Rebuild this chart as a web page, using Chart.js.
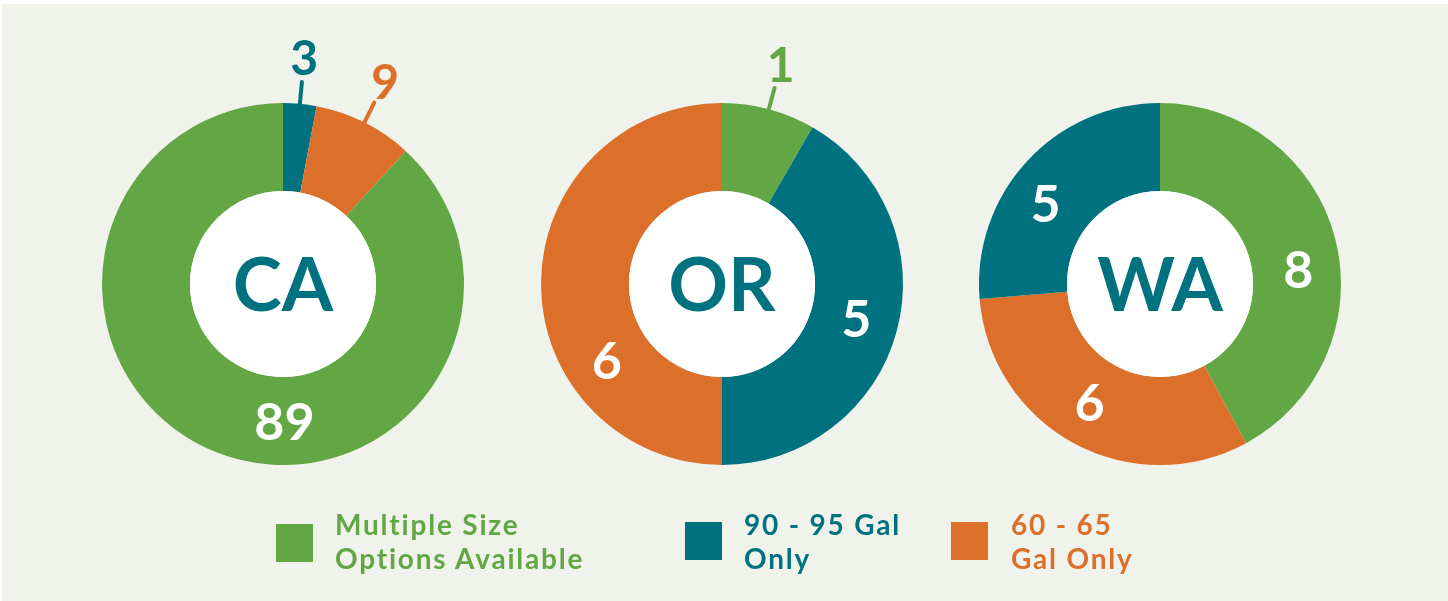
<!DOCTYPE html>
<html>
<head>
<meta charset="utf-8">
<script src="https://cdn.jsdelivr.net/npm/chart.js@4"></script>
<style>
  html, body { margin: 0; padding: 0; background: #ffffff; }
  body { width: 1448px; height: 601px; position: relative; overflow: hidden; }
  #panel { position: absolute; left: 2px; top: 4px; right: 0; bottom: 0; background: #f0f3ec; }
  canvas { position: absolute; }
  .sw { position: absolute; width: 37px; height: 38px; }
  .lt { position: absolute; font-family: Lato, "Open Sans", sans-serif; font-weight: bold;
        font-size: 28px; letter-spacing: 1.8px; line-height: 34px; white-space: nowrap; }
</style>
</head>
<body>
<div id="panel"></div>
<canvas id="ca" width="440" height="560" style="left:63px;top:4px"></canvas>
<canvas id="or" width="440" height="560" style="left:502px;top:4px"></canvas>
<canvas id="wa" width="440" height="560" style="left:940px;top:4px"></canvas>

<div class="sw" style="left:276px;top:524px;background:#62a744"></div>
<div class="lt" style="left:335px;top:507px;color:#62a744">Multiple Size<br>Options Available</div>
<div class="sw" style="left:685px;top:522px;background:#00717f"></div>
<div class="lt" style="left:744px;top:507px;color:#00717f">90 - 95 Gal<br>Only</div>
<div class="sw" style="left:951px;top:522px;background:#dc6f2a"></div>
<div class="lt" style="left:1011px;top:507px;color:#dc6f2a">60 - 65<br>Gal Only</div>

<script>
const categories = ['Multiple Size Options Available', '90 - 95 Gal Only', '60 - 65 Gal Only'];
const colors = ['#62a744', '#00717f', '#dc6f2a'];
const states = ['CA', 'OR', 'WA'];

// counts per category (same order as categories)
const caValues = [89, 3, 9];
const orValues = [1, 5, 6];
const waValues = [8, 5, 6];

// order slices are drawn clockwise from 12 o'clock (category indexes)
const caOrder = [1, 2, 0];
const orOrder = [0, 1, 2];
const waOrder = [0, 2, 1];

const teal = '#00717f';
const font = 'Lato, "Open Sans", sans-serif';

const donutText = {
  id: 'donutText',
  afterDatasetsDraw(chart, args, opts) {
    const ctx = chart.ctx;
    const arcs = chart.getDatasetMeta(0).data;
    const ds = chart.data.datasets[0];
    const c = arcs[0].getProps(['x', 'y', 'innerRadius', 'outerRadius'], true);
    ctx.save();
    // white hole + state name
    ctx.fillStyle = '#ffffff';
    ctx.beginPath();
    ctx.arc(c.x, c.y, c.innerRadius, 0, Math.PI * 2);
    ctx.fill();
    ctx.textAlign = 'center';
    ctx.textBaseline = 'middle';
    ctx.fillStyle = teal;
    ctx.font = 'bold 74px ' + font;
    ctx.fillText(opts.title, c.x, c.y + 3);

    arcs.forEach((arc, i) => {
      const p = arc.getProps(['startAngle', 'endAngle'], true);
      const span = p.endAngle - p.startAngle;
      const a = (p.startAngle + p.endAngle) / 2 + (opts.shift[i] || 0) * Math.PI / 180;
      const cos = Math.cos(a), sin = Math.sin(a);
      const value = ds.data[i];
      if (span < 0.7) {
        // small slice: leader line + label outside
        const col = ds.backgroundColor[i];
        ctx.strokeStyle = col;
        ctx.lineWidth = 4;
        ctx.lineCap = 'round';
        ctx.beginPath();
        ctx.moveTo(c.x + cos * (c.outerRadius - 3), c.y + sin * (c.outerRadius - 3));
        ctx.lineTo(c.x + cos * (c.outerRadius + 22), c.y + sin * (c.outerRadius + 22));
        ctx.stroke();
        ctx.fillStyle = col;
        ctx.font = 'bold 48px ' + font;
        ctx.fillText(value, c.x + cos * (c.outerRadius + 46), c.y + sin * (c.outerRadius + 44));
      } else {
        const r = (c.innerRadius + c.outerRadius) / 2 + 2;
        ctx.fillStyle = '#ffffff';
        ctx.font = 'bold 52px ' + font;
        ctx.fillText(value, c.x + cos * r, c.y + sin * r);
      }
    });
    ctx.restore();
  }
};

function makeDonut(id, title, values, order, shift) {
  new Chart(document.getElementById(id).getContext('2d'), {
    type: 'doughnut',
    data: {
      labels: order.map(i => categories[i]),
      datasets: [{
        data: order.map(i => values[i]),
        backgroundColor: order.map(i => colors[i]),
        borderWidth: 0
      }]
    },
    options: {
      responsive: false,
      animation: false,
      cutout: '51.4%',
      layout: { padding: { left: 39, right: 39, top: 99, bottom: 99 } },
      plugins: {
        legend: { display: false },
        tooltip: { enabled: false },
        donutText: { title: title, shift: shift }
      },
      events: []
    },
    plugins: [donutText]
  });
}

makeDonut('ca', states[0], caValues, caOrder, [0, 0, -22]);
makeDonut('or', states[1], orValues, orOrder, [0, 0, -34]);
makeDonut('wa', states[2], waValues, waOrder, [9, 2, -8]);
</script>
</body>
</html>
